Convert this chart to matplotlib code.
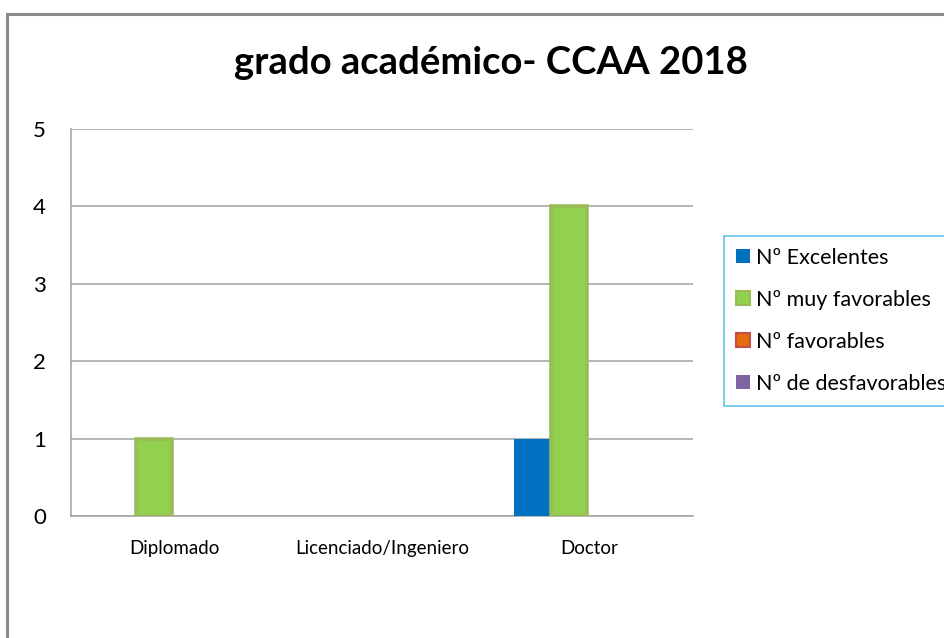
import numpy as np
import matplotlib.pyplot as plt
from matplotlib.patches import Rectangle, Patch

plt.rcParams['font.family'] = ['Lato', 'DejaVu Sans']

# --- data
categorias = ['Diplomado', 'Licenciado/Ingeniero', 'Doctor']
series = ['Nº Excelentes', 'Nº muy favorables', 'Nº favorables',
          'Nº de desfavorables']
excelentes = [0, 0, 1]
muy_favorables = [1, 0, 4]
favorables = [0, 0, 0]
desfavorables = [0, 0, 0]

valores = [excelentes, muy_favorables, favorables, desfavorables]
colores = ['#0070C0', '#92D050', '#E46C0A', '#8064A2']
bordes = ['#0070C0', '#9BBB59', '#C0504D', '#8064A2']

fig = plt.figure(figsize=(9.45, 6.38), dpi=100)
ax = fig.add_axes([71 / 945, 1 - 516 / 638, (693 - 71) / 945, (516 - 129) / 638])

# outer chart border (cut by the image edge)
fig.patches.append(Rectangle((7 / 945, -0.1), 1.2, 1 - 14 / 638 + 0.1,
                             transform=fig.transFigure, fill=False,
                             edgecolor='#8C8C8C', linewidth=2.2))

x = np.arange(len(categorias))
w = 0.175
for i, vals in enumerate(valores):
    lw = [2.6 if (i == 1 and v > 0) else 0 for v in vals]
    ax.bar(x + (i - 1.5) * w - 0.012, vals, w, color=colores[i],
           edgecolor=bordes[i], linewidth=lw, zorder=3)

ax.set_xlim(-0.5, 2.5)
ax.set_ylim(0, 5)
ax.set_yticks(range(6))
ax.set_xticks(x)
ax.set_xticklabels(categorias, fontsize=13.5)
ax.tick_params(axis='y', labelsize=16, length=0, pad=18)
ax.tick_params(axis='x', length=0, pad=17)
ax.yaxis.grid(True, color='#A0A0A0', linewidth=1.1, zorder=0)
for s in ['top', 'right']:
    ax.spines[s].set_visible(False)
ax.spines['left'].set_color('#A0A0A0')
ax.spines['bottom'].set_color('#A0A0A0')
ax.spines['left'].set_linewidth(1.1)
ax.spines['bottom'].set_linewidth(1.1)

fig.text(491 / 945, 1 - 63 / 638, 'grado académico- CCAA 2018',
         ha='center', va='center', fontsize=27.5, fontweight='bold')

handles = []
for i in range(4):
    handles.append(Patch(facecolor=colores[i], edgecolor=bordes[i],
                         linewidth=1.5 if i in (1, 2) else 0))
leg = fig.legend(handles, series, loc='upper left',
                 bbox_to_anchor=(724 / 945, 1 - 236 / 638),
                 fontsize=15.5, frameon=True, fancybox=False,
                 handlelength=0.65, handleheight=0.65, handletextpad=0.3,
                 labelspacing=1.02, borderpad=0.55, borderaxespad=0)
leg.get_frame().set_edgecolor('#3CB4E6')
leg.get_frame().set_linewidth(1.2)

fig.savefig('out.png', dpi=100)
